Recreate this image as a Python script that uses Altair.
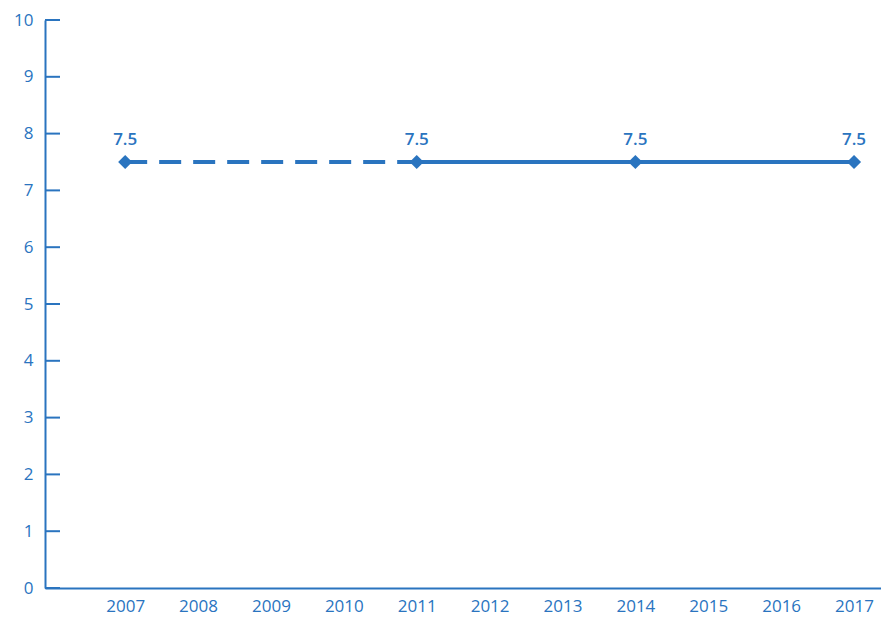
import altair as alt
import pandas as pd

years_dashed = [2007, 2011]
vals_dashed = [7.5, 7.5]
years_solid = [2011, 2014, 2017]
vals_solid = [7.5, 7.5, 7.5]
point_years = [2007, 2011, 2014, 2017]
point_vals = [7.5, 7.5, 7.5, 7.5]
year_ticks = list(range(2007, 2018))
y_ticks = list(range(0, 11))

COLOR = "#2a74bf"
FONT = "Open Sans"

dashed = pd.DataFrame({"year": years_dashed, "value": vals_dashed})
solid = pd.DataFrame({"year": years_solid, "value": vals_solid})
pts = pd.DataFrame({"year": point_years, "value": point_vals,
                    "label": [f"{v}" for v in point_vals]})
yt = pd.DataFrame({"v": y_ticks})

xscale = alt.Scale(domain=[2005.9, 2017.37], nice=False, zero=False)
yscale = alt.Scale(domain=[0, 10], nice=False)

xaxis = alt.Axis(values=year_ticks, format="d", title=None, labelPadding=10)
yaxis = alt.Axis(values=y_ticks, format="d", title=None, labelPadding=12)

ticks = alt.Chart(yt).mark_rule(color=COLOR, strokeWidth=2).encode(
    x=alt.value(0), x2=alt.value(15),
    y=alt.Y("v:Q", scale=yscale, axis=yaxis),
)
line_d = alt.Chart(dashed).mark_line(color=COLOR, strokeWidth=4, strokeDash=[22, 12]).encode(
    x=alt.X("year:Q", scale=xscale, axis=xaxis),
    y=alt.Y("value:Q", scale=yscale, axis=yaxis),
)
line_s = alt.Chart(solid).mark_line(color=COLOR, strokeWidth=4).encode(
    x=alt.X("year:Q", scale=xscale),
    y=alt.Y("value:Q", scale=yscale),
)
points = alt.Chart(pts).mark_point(shape="diamond", filled=True, size=200, color=COLOR, opacity=1).encode(
    x=alt.X("year:Q", scale=xscale),
    y=alt.Y("value:Q", scale=yscale),
)
labels = alt.Chart(pts).mark_text(color=COLOR, font=FONT, fontSize=17, fontWeight=600,
                                  baseline="bottom", dy=-13).encode(
    x=alt.X("year:Q", scale=xscale),
    y=alt.Y("value:Q", scale=yscale),
    text="label:N",
)

chart = alt.layer(ticks, line_d, line_s, points, labels).properties(
    width=836, height=568,
    background="white",
    autosize=alt.AutoSizeParams(type="none"),
    padding={"left": 37, "top": 12, "right": 0, "bottom": 30},
).configure_view(stroke=None).configure_axis(
    grid=False, ticks=False, domainColor=COLOR, domainWidth=2,
    labelColor=COLOR, labelFont=FONT, labelFontSize=17,
)

chart.save("out.html", embed_options={"renderer": "svg", "actions": False})
